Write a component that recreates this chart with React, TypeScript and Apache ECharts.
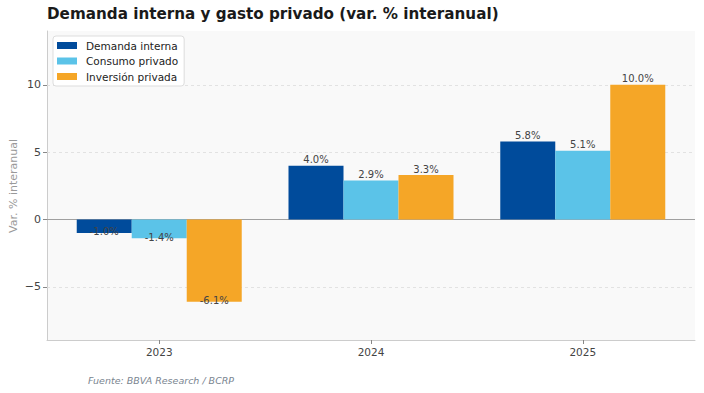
import React, { useEffect, useRef } from "react";
import * as echarts from "echarts";

const years = ["2023", "2024", "2025"];
const demandaInterna = [-1.0, 4.0, 5.8];
const consumoPrivado = [-1.4, 2.9, 5.1];
const inversionPrivada = [-6.1, 3.3, 10.0];
const yTicks = [-5, 0, 5, 10];
const gridLines = [-5, 5, 10];

const seriesDefs = [
  { name: "Demanda interna", values: demandaInterna, color: "#004B9B" },
  { name: "Consumo privado", values: consumoPrivado, color: "#5BC3E8" },
  { name: "Inversión privada", values: inversionPrivada, color: "#F5A627" },
];

const FONT = "DejaVu Sans";

export default function App() {
  const ref = useRef<HTMLDivElement>(null);
  useEffect(() => {
    document.body.style.margin = "0";
    if (!ref.current) return;
    const chart = echarts.init(ref.current, undefined, { renderer: "svg" });
    const series: any[] = seriesDefs.map((s, si) => ({
      type: "bar",
      name: s.name,
      barWidth: 55,
      barGap: "0%",
      z: 3,
      itemStyle: { color: s.color },
      data: s.values.map((v, i) => ({
        value: [i, v],
        label: {
          show: true,
          position: v >= 0 ? "top" : "bottom",
          distance: v >= 0 ? 1 : -6,
          formatter: () => v.toFixed(1) + "%",
          fontFamily: FONT,
          fontSize: 10,
          color: "#444",
        },
      })),
      ...(si === 0
        ? {
            markLine: {
              silent: true,
              symbol: "none",
              z: 1,
              label: { show: false },
              data: [
                ...gridLines.map((g) => ({
                  yAxis: g,
                  lineStyle: { color: "#dcdcdc", type: [3, 3], width: 0.8 },
                })),
                { yAxis: 0, lineStyle: { color: "#a0a0a0", type: "solid", width: 1.2 } },
              ],
            },
          }
        : {}),
    }));

    chart.setOption({
      animation: false,
      title: {
        text: "Demanda interna y gasto privado (var. % interanual)",
        left: 47,
        top: 6,
        padding: 0,
        textStyle: { fontFamily: FONT, fontSize: 15.2, fontWeight: "bold", color: "#1a1a1a" },
      },
      legend: {
        orient: "vertical",
        left: 53,
        top: 36,
        padding: [4, 6, 4, 4],
        itemWidth: 20,
        itemHeight: 7,
        itemGap: 4.5,
        icon: "rect",
        backgroundColor: "#ffffff",
        borderColor: "#dddddd",
        borderWidth: 1,
        borderRadius: 3,
        textStyle: { fontFamily: FONT, fontSize: 10.5, color: "#222", padding: [0, 0, 0, 4] },
        data: seriesDefs.map((s) => s.name),
      },
      grid: {
        left: 47,
        right: 9,
        top: 31,
        bottom: 53,
        show: true,
        backgroundColor: "#f9f9f9",
        borderWidth: 0,
        outerBoundsMode: "none",
        containLabel: false,
      },
      xAxis: {
        type: "value",
        min: -0.53,
        max: 2.53,
        axisLine: { show: true, onZero: false, lineStyle: { color: "#cccccc", width: 1 } },
        axisTick: { show: true, customValues: [0, 1, 2], length: 4, lineStyle: { color: "#888" } },
        axisLabel: {
          customValues: [0, 1, 2],
          formatter: (v: number) => years[Math.round(v)] ?? "",
          fontFamily: FONT,
          fontSize: 10.5,
          color: "#444",
          margin: 6,
        },
        splitLine: { show: false },
      },
      yAxis: {
        type: "value",
        min: -8.95,
        max: 14,
        axisLine: { show: true, onZero: false, lineStyle: { color: "#cccccc", width: 1 } },
        axisTick: { show: true, customValues: yTicks, length: 4, lineStyle: { color: "#888" } },
        axisLabel: {
          customValues: yTicks,
          formatter: (v: number) => String(v).replace("-", "\u2212"),
          fontFamily: FONT,
          fontSize: 11,
          color: "#444",
          margin: 6,
        },
        splitLine: { show: false },
      },
      graphic: [
        {
          type: "text",
          x: 13,
          y: 186,
          rotation: Math.PI / 2,
          style: {
            text: "Var. % interanual",
            fontFamily: FONT,
            fontSize: 11,
            fill: "#999",
            align: "center",
            verticalAlign: "middle",
          },
        },
        {
          type: "text",
          left: 88,
          top: 375,
          style: {
            text: "Fuente: BBVA Research / BCRP",
            fontFamily: FONT,
            fontSize: 9.5,
            fontStyle: "italic",
            fill: "#7a8590",
          },
        },
      ],
      series,
    });
    return () => chart.dispose();
  }, []);
  return <div ref={ref} style={{ width: 704, height: 393 }} />;
}
